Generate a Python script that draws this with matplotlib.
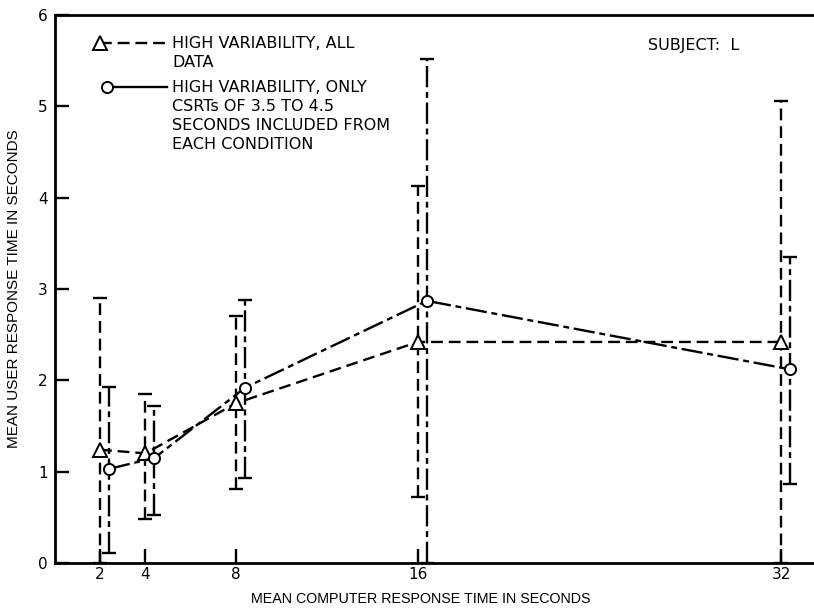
import numpy as np
import matplotlib
matplotlib.use('Agg')
import matplotlib.pyplot as plt
from matplotlib import transforms

plt.rcParams['font.family'] = ['Liberation Sans', 'DejaVu Sans']

# computer response time conditions (seconds)
crt = [2, 4, 8, 16, 32]

# high variability, all data
all_mean = [1.24, 1.20, 1.75, 2.42, 2.42]
all_low = [0.0, 0.48, 0.81, 0.72, 0.0]
all_high = [2.90, 1.85, 2.70, 4.13, 5.06]

# high variability, only CSRTs of 3.5 to 4.5 s
sub_mean = [1.03, 1.15, 1.92, 2.87, 2.12]
sub_low = [0.11, 0.53, 0.93, 0.0, 0.87]
sub_high = [1.93, 1.72, 2.88, 5.52, 3.35]

yticks = [0, 1, 2, 3, 4, 5, 6]

key_all = ['HIGH VARIABILITY, ALL', 'DATA']
key_sub = ['HIGH VARIABILITY, ONLY', 'CSRTs OF 3.5 TO 4.5',
           'SECONDS INCLUDED FROM', 'EACH CONDITION']

LW = 1.7
dash = (0, (5, 2.5))
dashdot = (0, (9, 2, 2.5, 2))
KEYFONT = dict(family='DejaVu Sans', size=11.5)

fig = plt.figure(figsize=(8.14, 6.11), dpi=100)
ax = fig.add_axes([0.0671, 0.0786, 0.9329, 0.8969])


def draw(ax, x, mean, low, high, marker, ms, ls, bar_ls, trans):
    mean = np.asarray(mean)
    yerr = [mean - np.asarray(low), np.asarray(high) - mean]
    line, caps, bars = ax.errorbar(x, mean, yerr=yerr, fmt='none', ecolor='black',
                                   elinewidth=LW, capsize=5, capthick=LW,
                                   transform=trans, zorder=2)
    bars[0].set_linestyle(bar_ls)
    ax.plot(x, mean, color='black', lw=LW, ls=ls, marker=marker, ms=ms,
            mfc='white', mec='black', mew=1.4, transform=trans, zorder=3)


draw(ax, crt, all_mean, all_low, all_high, '^', 9.5, dash, dash, ax.transData)
# second series sits a few pixels to the right of each condition
shifted = transforms.offset_copy(ax.transData, fig=fig, x=9, y=0, units='dots')
draw(ax, crt, sub_mean, sub_low, sub_high, 'o', 8, dashdot, dashdot, shifted)

ax.set_xlim(0, 33.45)
ax.set_ylim(0, 6)
ax.set_xticks(crt)
ax.set_yticks(yticks)
ax.tick_params(direction='in', length=10, width=LW, labelsize=11,
               labelfontfamily='DejaVu Sans', colors='black')
ax.tick_params(axis='y', pad=5)
ax.tick_params(axis='x', pad=3)
for s in ['left', 'bottom', 'top']:
    ax.spines[s].set_linewidth(2)
ax.spines['right'].set_visible(False)

ax.set_xlabel('MEAN COMPUTER RESPONSE TIME IN SECONDS', fontsize=10.3)
ax.set_ylabel('MEAN USER RESPONSE TIME IN SECONDS', fontsize=11)
ax.xaxis.set_label_coords(0.4825, -0.053)
ax.yaxis.set_label_coords(-0.044, 0.5)

# key, drawn by hand so the symbols line up with the first text line
ta = ax.transAxes
ax.plot([0.0598, 0.148], [0.949, 0.949], color='black', lw=LW, ls=dash, transform=ta)
ax.plot([0.0598], [0.949], marker='^', ms=9.5, mfc='white', mec='black', mew=1.4,
        transform=ta, ls='none')
ax.plot([0.069, 0.148], [0.8686, 0.8686], color='black', lw=LW, transform=ta)
ax.plot([0.069], [0.8686], marker='o', ms=8, mfc='white', mec='black', mew=1.4,
        transform=ta, ls='none')

for lines, y0 in [(key_all, 0.9398), (key_sub, 0.8595)]:
    for i, txt in enumerate(lines):
        ax.annotate(txt, xy=(0.1546, y0), xycoords='axes fraction',
                    xytext=(0, -13.7 * i), textcoords='offset points',
                    va='baseline', ha='left', **KEYFONT)

ax.text(0.781, 0.936, 'SUBJECT:  L', transform=ta, va='baseline', ha='left', **KEYFONT)

fig.savefig('out.png', dpi=100)
